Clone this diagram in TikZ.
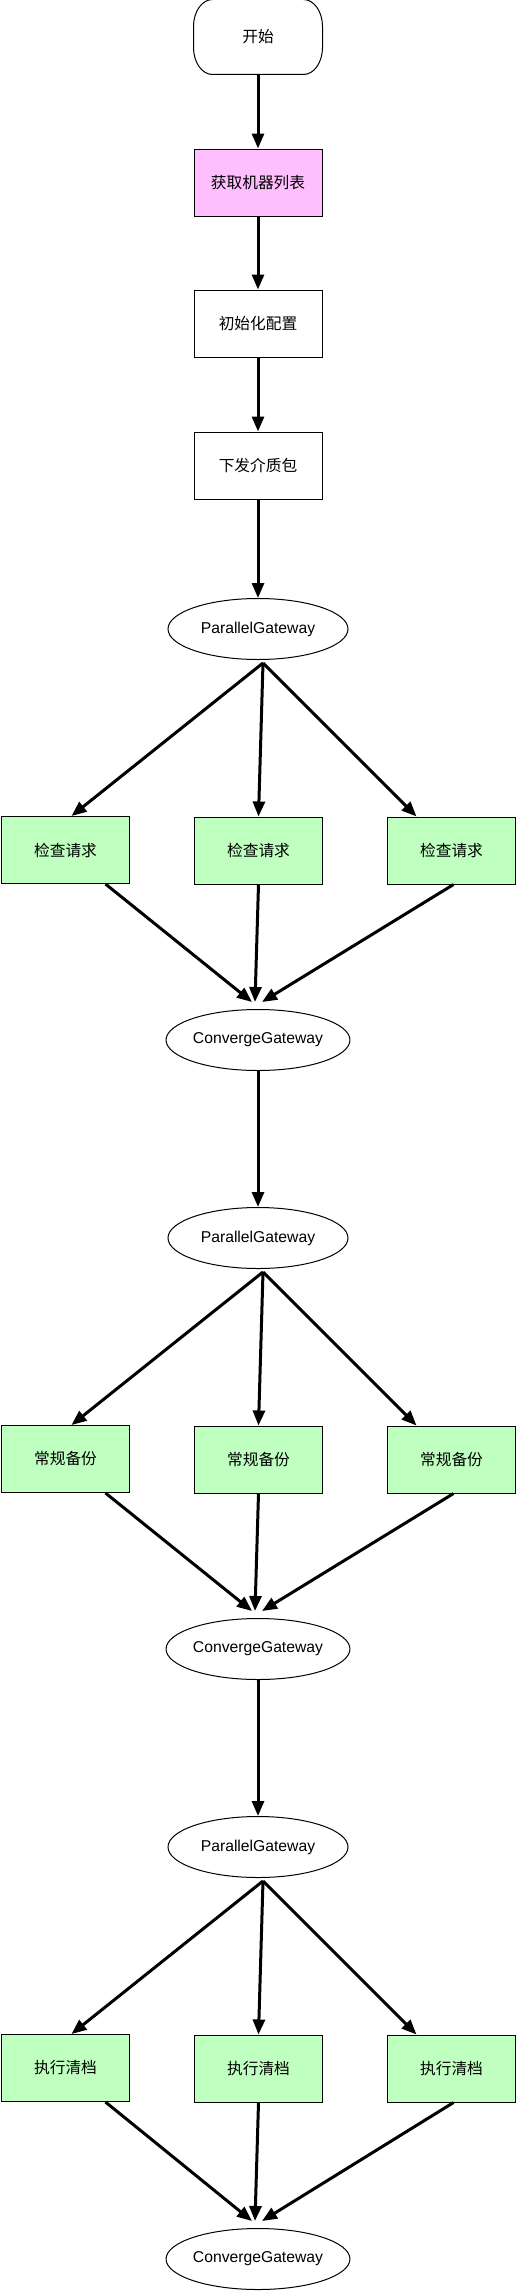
\documentclass[tikz,border=0pt]{standalone}
\usepackage{fontspec}
\setmainfont{Liberation Sans}
\newfontfamily\cjk{Noto Sans CJK SC}
\usetikzlibrary{shapes.geometric,arrows.meta}
\definecolor{pinkfill}{RGB}{255,191,255}
\definecolor{greenfill}{RGB}{191,255,191}
\tikzstyle{every node}=[draw=black,line width=1pt,inner sep=0pt,font=\fontsize{15.7}{18}\selectfont]
\tikzstyle{terminal}=[draw=none,minimum width=128pt,minimum height=74pt]
\tikzstyle{process}=[rectangle,minimum width=128pt,minimum height=67pt]
\tikzstyle{selected}=[fill=pinkfill]
\tikzstyle{task}=[process,fill=greenfill]
\tikzstyle{gateway}=[ellipse,minimum width=180pt,minimum height=61pt]
\tikzstyle{flowline}=[line width=3pt,-{Triangle[length=15pt,width=12pt]}]
\tikzstyle{capsule}=[x radius=19pt,y radius=27pt]

\begin{document}
\begin{tikzpicture}[x=1pt,y=-1pt]
  \useasboundingbox (0,0) rectangle (516,2291);
  % main line
  \node [terminal] (start) at (258,37) {\cjk 开始};
  \draw [line width=1pt] ([xshift=19pt]start.north west) -- ([xshift=-19pt]start.north east)
    arc [capsule,start angle=90,end angle=0] -- ([yshift=27pt]start.south east)
    arc [capsule,start angle=0,end angle=-90] -- ([xshift=19pt]start.south west)
    arc [capsule,start angle=270,end angle=180] -- ([yshift=-27pt]start.north west)
    arc [capsule,start angle=180,end angle=90] -- cycle;
  \node [process,selected] (fetch) at (258,182.5) {\cjk 获取机器列表};
  \node [process] (init) at (258,323.5) {\cjk 初始化配置};
  \node [process] (send) at (258,465.5) {\cjk 下发介质包};
  % check stage
  \node [gateway] (pgA) at (258,629) {ParallelGateway};
  \node [task] (chkL) at (65.5,850) {\cjk 检查请求};
  \node [task] (chkM) at (258.5,850.5) {\cjk 检查请求};
  \node [task] (chkR) at (451.5,850.5) {\cjk 检查请求};
  \node [gateway] (cgA) at (258,1040) {ConvergeGateway};
  % backup stage
  \node [gateway] (pgB) at (258,1238) {ParallelGateway};
  \node [task] (bakL) at (65.5,1459) {\cjk 常规备份};
  \node [task] (bakM) at (258.5,1459.5) {\cjk 常规备份};
  \node [task] (bakR) at (451.5,1459.5) {\cjk 常规备份};
  \node [gateway] (cgB) at (258,1649) {ConvergeGateway};
  % clean stage
  \node [gateway] (pgC) at (258,1847) {ParallelGateway};
  \node [task] (clnL) at (65.5,2068) {\cjk 执行清档};
  \node [task] (clnM) at (258.5,2068.5) {\cjk 执行清档};
  \node [task] (clnR) at (451.5,2068.5) {\cjk 执行清档};
  \node [gateway] (cgC) at (258,2259) {ConvergeGateway};

  \draw [flowline] (start) -- (fetch);
  \draw [flowline] (fetch) -- (init);
  \draw [flowline] (init) -- (send);
  \draw [flowline] (send) -- (pgA);

  \draw [flowline] ([xshift=5pt,yshift=-3pt]pgA.south) -- ([xshift=6pt]chkL.north);
  \draw [flowline] ([xshift=5pt,yshift=-3pt]pgA.south) -- (chkM.north);
  \draw [flowline] ([xshift=5pt,yshift=-3pt]pgA.south) -- ([xshift=-35pt]chkR.north);
  \draw [flowline] ([xshift=40pt]chkL.south) -- ([xshift=-6pt,yshift=7pt]cgA.north);
  \draw [flowline] (chkM.south) -- ([xshift=-3pt,yshift=7pt]cgA.north);
  \draw [flowline] ([xshift=2pt]chkR.south) -- ([xshift=4pt,yshift=7pt]cgA.north);
  \draw [flowline] (cgA) -- (pgB);

  \draw [flowline] ([xshift=5pt,yshift=-3pt]pgB.south) -- ([xshift=6pt]bakL.north);
  \draw [flowline] ([xshift=5pt,yshift=-3pt]pgB.south) -- (bakM.north);
  \draw [flowline] ([xshift=5pt,yshift=-3pt]pgB.south) -- ([xshift=-35pt]bakR.north);
  \draw [flowline] ([xshift=40pt]bakL.south) -- ([xshift=-6pt,yshift=7pt]cgB.north);
  \draw [flowline] (bakM.south) -- ([xshift=-3pt,yshift=7pt]cgB.north);
  \draw [flowline] ([xshift=2pt]bakR.south) -- ([xshift=4pt,yshift=7pt]cgB.north);
  \draw [flowline] (cgB) -- (pgC);

  \draw [flowline] ([xshift=5pt,yshift=-3pt]pgC.south) -- ([xshift=6pt]clnL.north);
  \draw [flowline] ([xshift=5pt,yshift=-3pt]pgC.south) -- (clnM.north);
  \draw [flowline] ([xshift=5pt,yshift=-3pt]pgC.south) -- ([xshift=-35pt]clnR.north);
  \draw [flowline] ([xshift=40pt]clnL.south) -- ([xshift=-6pt,yshift=7pt]cgC.north);
  \draw [flowline] (clnM.south) -- ([xshift=-3pt,yshift=7pt]cgC.north);
  \draw [flowline] ([xshift=2pt]clnR.south) -- ([xshift=4pt,yshift=7pt]cgC.north);
\end{tikzpicture}
\end{document}
